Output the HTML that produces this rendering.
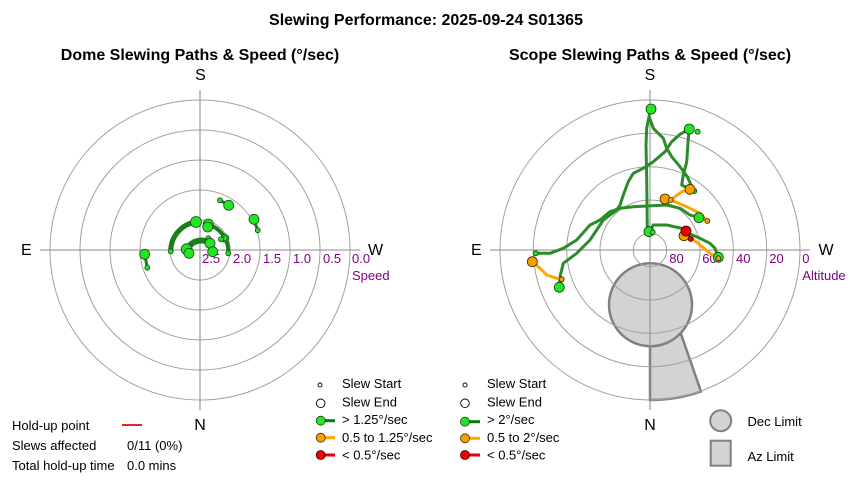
<!DOCTYPE html>
<html>
<head>
<meta charset="utf-8">
<style>
html,body{margin:0;padding:0;background:#fff;}
svg{display:block;}
text{font-family:"Liberation Sans",Arial,sans-serif;}
</style>
</head>
<body>
<svg width="850" height="480" viewBox="0 0 850 480" xmlns="http://www.w3.org/2000/svg">
<rect width="850" height="480" fill="#fff"/>

<!-- Titles -->
<text x="426" y="25" font-size="16" font-weight="bold" text-anchor="middle">Slewing Performance: 2025-09-24 S01365</text>
<text x="200" y="60" font-size="16" font-weight="bold" text-anchor="middle">Dome Slewing Paths &amp; Speed (°/sec)</text>
<text x="650" y="60" font-size="16" font-weight="bold" text-anchor="middle">Scope Slewing Paths &amp; Speed (°/sec)</text>

<!-- ===== LEFT CHART (Dome) ===== -->
<g fill="none" stroke="#a0a0a0" stroke-width="1">
  <circle cx="200" cy="250" r="30"/>
  <circle cx="200" cy="250" r="60"/>
  <circle cx="200" cy="250" r="90"/>
  <circle cx="200" cy="250" r="120"/>
  <circle cx="200" cy="250" r="150"/>
</g>
<g stroke="#8a8a8a" stroke-width="1">
  <line x1="40" y1="250" x2="360" y2="250"/>
  <line x1="200" y1="90" x2="200" y2="410"/>
</g>
<g font-size="16" fill="#000">
  <text x="200.5" y="80" text-anchor="middle">S</text>
  <text x="200" y="430" text-anchor="middle">N</text>
  <text x="21" y="255">E</text>
  <text x="368" y="255">W</text>
</g>
<g font-size="13" fill="#800080">
  <text x="202" y="263">2.5</text>
  <text x="233" y="263">2.0</text>
  <text x="263" y="263">1.5</text>
  <text x="293" y="263">1.0</text>
  <text x="323" y="263">0.5</text>
  <text x="352" y="263">0.0</text>
  <text x="352" y="280">Speed</text>
</g>

<!-- Dome paths -->
<g fill="none" stroke="#1a7f1a" stroke-linecap="round">
  <line x1="147.3" y1="267.7" x2="144.7" y2="254.3" stroke-width="3"/>
  <line x1="220" y1="200.3" x2="228.7" y2="205.3" stroke-width="3"/>
  <line x1="257.7" y1="230.3" x2="254" y2="219.3" stroke-width="3"/>
  <path d="M170.7,251 A29.5,29.5 0 0 1 196,222" stroke-width="5"/>
  <path d="M208,224.5 A28,28 0 0 1 228.3,253" stroke-width="4"/>
  <path d="M187,250 A15.5,15.5 0 0 1 211,244" stroke-width="6"/>
</g>
<g stroke="#1a4a1a" stroke-width="0.8" fill="#22e622">
  <circle cx="144.7" cy="254.3" r="5"/>
  <circle cx="147.3" cy="267.7" r="2.5"/>
  <circle cx="228.7" cy="205.3" r="5"/>
  <circle cx="220" cy="200.3" r="2.5"/>
  <circle cx="254" cy="219.3" r="5"/>
  <circle cx="257.7" cy="230.3" r="2.5"/>
  <circle cx="170.7" cy="251.3" r="2.5"/>
  <circle cx="196" cy="222" r="5.5"/>
  <circle cx="208.3" cy="224" r="5"/>
  <circle cx="207.7" cy="227" r="5"/>
  <circle cx="225" cy="238.3" r="4"/>
  <circle cx="225" cy="238.3" r="2.3"/>
  <circle cx="221" cy="239.3" r="2.5"/>
  <circle cx="228.3" cy="253.3" r="2.5"/>
  <circle cx="208.3" cy="238.3" r="2.5"/>
  <circle cx="186.7" cy="249.3" r="5.5"/>
  <circle cx="189" cy="253.3" r="5"/>
  <circle cx="210" cy="243.3" r="5"/>
  <circle cx="212.7" cy="251.7" r="5"/>
</g>

<!-- Left legend -->
<g font-size="13" fill="#000">
  <text x="342" y="388">Slew Start</text>
  <text x="342" y="406.5">Slew End</text>
  <text x="342" y="424">&gt; 1.25°/sec</text>
  <text x="342" y="442">0.5 to 1.25°/sec</text>
  <text x="342" y="459.5">&lt; 0.5°/sec</text>
</g>
<circle cx="320" cy="385" r="2" fill="#fff" stroke="#000" stroke-width="0.9"/>
<circle cx="320.7" cy="403.3" r="4.3" fill="#fff" stroke="#000" stroke-width="0.9"/>
<line x1="321" y1="420.7" x2="335" y2="420.7" stroke="#0a780a" stroke-width="3"/>
<circle cx="320.7" cy="420.7" r="4.5" fill="#22e622" stroke="#1a3a1a" stroke-width="0.8"/>
<line x1="321" y1="437.7" x2="335" y2="437.7" stroke="#ffa500" stroke-width="3"/>
<circle cx="320.7" cy="437.7" r="4.5" fill="#f5a000" stroke="#3a2a00" stroke-width="0.8"/>
<line x1="321" y1="455" x2="335" y2="455" stroke="#ee0000" stroke-width="3"/>
<circle cx="320.7" cy="455" r="4.5" fill="#ee0000" stroke="#3a0000" stroke-width="0.8"/>

<!-- Hold-up info -->
<g font-size="13" fill="#000">
  <text x="12" y="430">Hold-up point</text>
  <text x="12" y="450">Slews affected</text>
  <text x="127" y="450">0/11 (0%)</text>
  <text x="12" y="470">Total hold-up time</text>
  <text x="127" y="470">0.0 mins</text>
</g>
<line x1="122" y1="425" x2="142" y2="425" stroke="#ee2222" stroke-width="2"/>

<!-- ===== RIGHT CHART (Scope) ===== -->
<!-- Limits -->
<path d="M650,344 L650,400 A150,150 0 0 0 701,391.5 L681,334 Z" fill="#d3d3d3" stroke="#808080" stroke-width="2.5"/>
<circle cx="650.5" cy="304.7" r="41.5" fill="#d3d3d3" stroke="#808080" stroke-width="2.5"/>

<g fill="none" stroke="#a0a0a0" stroke-width="1">
  <circle cx="650" cy="250" r="16.7"/>
  <circle cx="650" cy="250" r="50"/>
  <circle cx="650" cy="250" r="83.3"/>
  <circle cx="650" cy="250" r="116.7"/>
  <circle cx="650" cy="250" r="150"/>
</g>
<g stroke="#8a8a8a" stroke-width="1">
  <line x1="490" y1="250" x2="810" y2="250"/>
  <line x1="650" y1="90" x2="650" y2="410"/>
</g>
<g font-size="16" fill="#000">
  <text x="650" y="80" text-anchor="middle">S</text>
  <text x="650" y="430" text-anchor="middle">N</text>
  <text x="471" y="255">E</text>
  <text x="818.5" y="255">W</text>
</g>
<g font-size="13" fill="#800080">
  <text x="669.3" y="263">80</text>
  <text x="702.3" y="263">60</text>
  <text x="736" y="263">40</text>
  <text x="769.3" y="263">20</text>
  <text x="802.3" y="263">0</text>
  <text x="802.3" y="280">Altitude</text>
</g>

<!-- Scope paths -->
<g fill="none" stroke="#2a8c2a" stroke-width="3" stroke-linejoin="round" stroke-linecap="round">
  <polyline points="651,109 649.3,115 646.7,128.3 646,145 646.7,178 647.3,228.3 649,231.7"/>
  <polyline points="649.3,117 653.3,128.3 663.3,138.3 666.7,148.3 671.7,156.7 680,166.7 687.3,176.7 693.3,190"/>
  <polyline points="689.3,129 680,134.3 671.7,141.7 665,151.7 653.3,161.7 643.3,168.3 633.3,173.3 628.3,181.7 623.3,195 620,205 616.7,210 603.3,220 590,240 576.7,253.3 563.3,263.3 560,276.7 559.3,287.3"/>
  <polyline points="535.7,253.3 550,253.3 563.3,248.3 576.7,240 590,225 600,220 610,211.7 620,208.3 633.3,206.7 666.7,205 680,208.3 690,215 699,217.7"/>
  <polyline points="689.3,129 688.3,138.3 686.7,161.7 683.3,175 681.7,185 690,189.3"/>
  <polyline points="649,231.7 653.3,225 666.7,225 681.7,228.3 686,231 690,234 700,238.3 710,243.3 715,248.3 718.3,257.3"/>
</g>
<g fill="none" stroke="#ffa500" stroke-width="3" stroke-linejoin="round" stroke-linecap="round">
  <polyline points="665,199 670.7,200 681.7,191.7 690,189.3"/>
  <polyline points="670.7,200 686.7,206.7 700,213.3 707.3,221"/>
  <polyline points="684,235.7 691.7,238.3 700,245 710,253.3 718.3,258.3"/>
  <polyline points="532.3,261.7 540,268.3 546.7,275 556.7,278.3 561.7,279.3"/>
</g>
<line x1="686" y1="231" x2="690.7" y2="239" stroke="#ee0000" stroke-width="3"/>

<g stroke="#1a3a1a" stroke-width="0.8" fill="#22e622">
  <circle cx="651" cy="109" r="5"/>
  <circle cx="689.3" cy="129" r="5"/>
  <circle cx="697.7" cy="131.7" r="2.5"/>
  <circle cx="649" cy="231.7" r="5"/>
  <circle cx="652.7" cy="232.3" r="2.5"/>
  <circle cx="699" cy="217.7" r="5"/>
  <circle cx="718.3" cy="257.3" r="5"/>
  <circle cx="559.3" cy="287.3" r="5"/>
  <circle cx="694.3" cy="191" r="2.5"/>
  <circle cx="535.7" cy="253.3" r="2.5"/>
</g>
<g stroke="#3a2a00" stroke-width="0.8" fill="#f5a000">
  <circle cx="690" cy="189.3" r="5"/>
  <circle cx="665" cy="199" r="5"/>
  <circle cx="684" cy="235.7" r="5"/>
  <circle cx="532.3" cy="261.7" r="5"/>
  <circle cx="670.7" cy="200" r="2.5"/>
  <circle cx="707.3" cy="221" r="2.5"/>
  <circle cx="718.3" cy="258.3" r="2.5"/>
  <circle cx="561.7" cy="279.3" r="2.5"/>
</g>
<g stroke="#3a0000" stroke-width="0.8" fill="#ee0000">
  <circle cx="686" cy="231" r="5"/>
  <circle cx="690.7" cy="239" r="2.5"/>
</g>

<!-- Right legend -->
<g font-size="13" fill="#000">
  <text x="487" y="388">Slew Start</text>
  <text x="487" y="406.5">Slew End</text>
  <text x="487" y="424">&gt; 2°/sec</text>
  <text x="487" y="442">0.5 to 2°/sec</text>
  <text x="487" y="459.5">&lt; 0.5°/sec</text>
  <text x="747.5" y="426">Dec Limit</text>
  <text x="747.5" y="461">Az Limit</text>
</g>
<circle cx="465" cy="385" r="2" fill="#fff" stroke="#000" stroke-width="0.9"/>
<circle cx="465" cy="403.3" r="4.3" fill="#fff" stroke="#000" stroke-width="0.9"/>
<line x1="465" y1="421.7" x2="480" y2="421.7" stroke="#0a780a" stroke-width="3"/>
<circle cx="465" cy="421.7" r="4.5" fill="#22e622" stroke="#1a3a1a" stroke-width="0.8"/>
<line x1="465" y1="438.3" x2="480" y2="438.3" stroke="#ffa500" stroke-width="3"/>
<circle cx="465" cy="438.3" r="4.5" fill="#f5a000" stroke="#3a2a00" stroke-width="0.8"/>
<line x1="465" y1="455" x2="480" y2="455" stroke="#ee0000" stroke-width="3"/>
<circle cx="465" cy="455" r="4.5" fill="#ee0000" stroke="#3a0000" stroke-width="0.8"/>
<circle cx="720.7" cy="420.7" r="10.5" fill="#d3d3d3" stroke="#808080" stroke-width="2"/>
<rect x="710.7" y="440.7" width="20" height="25" fill="#d3d3d3" stroke="#808080" stroke-width="2"/>
</svg>
</body>
</html>
